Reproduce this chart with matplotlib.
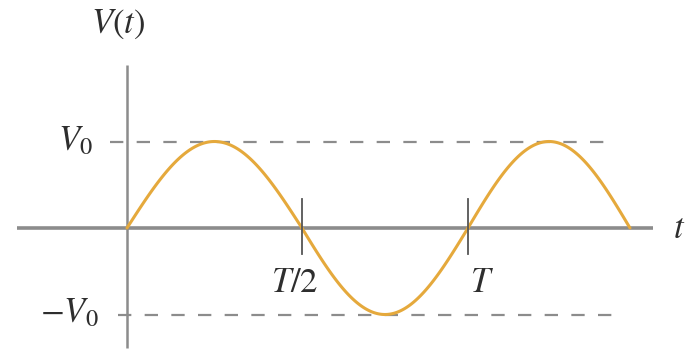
"""Sinusoidal voltage V(t) over one and a half periods."""
import numpy as np
import matplotlib.pyplot as plt

plt.rcParams["mathtext.fontset"] = "stix"

# zero crossings of the drawn wave, in units of T (hand-drawn, slightly uneven)
crossings = [0.0, 0.513, 1.0, 1.475]
arch_signs = [1, -1, 1]
amplitude = 1.0  # V0

tick_pos = [0.513, 1.0]
tick_labels = [r"$T/2$", r"$T$"]

curve_color = "#E5A93C"
axis_color = "#8c8c8c"
text_color = "#2e2e2e"

fig = plt.figure(figsize=(6.93, 3.52), dpi=100)
ax = fig.add_axes([0, 0, 1, 1])
ax.set_xlim(-0.3724, 1.6598)
ax.set_ylim(-1.4335, 2.636)
ax.axis("off")

# axes
ax.plot([-0.3226, 1.5425], [0, 0], color=axis_color, lw=2.6, solid_capstyle="butt", zorder=1)
ax.plot([0, 0], [-1.387, 1.884], color=axis_color, lw=1.8, solid_capstyle="butt", zorder=1)

# +V0 / -V0 reference lines
ax.plot([-0.05, 1.422], [amplitude, amplitude], color=axis_color, lw=1.6,
        linestyle=(0, (6, 6)), zorder=1)
ax.plot([-0.026, 1.446], [-amplitude, -amplitude], color=axis_color, lw=1.6,
        linestyle=(0, (6, 6)), zorder=1)

# ticks at T/2 and T
for xp in tick_pos:
    ax.plot([xp, xp], [-0.3, 0.33], color="#555555", lw=1.3, zorder=3)

# sine wave, one half-arch between consecutive crossings
for a, b, s in zip(crossings[:-1], crossings[1:], arch_signs):
    t = np.linspace(a, b, 120)
    ax.plot(t, s * amplitude * np.sin(np.pi * (t - a) / (b - a)),
            color=curve_color, lw=2.2, zorder=2, solid_capstyle="round")

# labels
ax.text(-0.026, 2.36, r"$V(t)$", fontsize=25, color=text_color, ha="center", va="center")
ax.text(-0.15, 1.02, r"$V_0$", fontsize=25, color=text_color, ha="center", va="center")
ax.text(-0.17, -0.97, r"$-V_0$", fontsize=25, color=text_color, ha="center", va="center")
ax.text(1.62, 0.0, r"$t$", fontsize=25, color=text_color, ha="center", va="center")
for xp, lab in zip(tick_pos, tick_labels):
    ax.text(xp - 0.02 if lab == r"$T/2$" else xp + 0.04, -0.62, lab,
            fontsize=25, color=text_color, ha="center", va="center")

fig.savefig("out.png", dpi=100)
